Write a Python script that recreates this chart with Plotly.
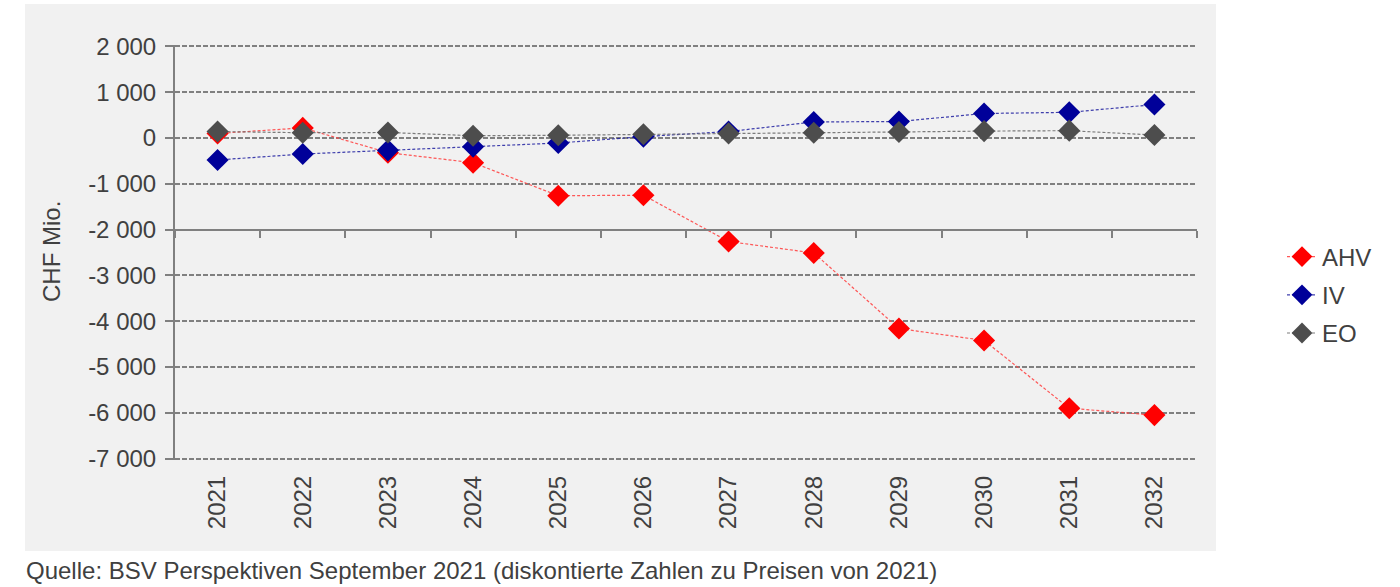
import plotly.graph_objects as go

years = ["2021", "2022", "2023", "2024", "2025", "2026", "2027", "2028", "2029", "2030", "2031", "2032"]
ahv = [100, 220, -320, -540, -1260, -1250, -2260, -2510, -4160, -4420, -5900, -6050]
iv = [-480, -350, -270, -190, -110, 30, 140, 350, 360, 535, 560, 730]
eo = [140, 115, 120, 50, 60, 80, 100, 115, 130, 150, 160, 65]

y_ticks = [2000, 1000, 0, -1000, -2000, -3000, -4000, -5000, -6000, -7000]
y_labels = ["2 000", "1 000", "0", "-1 000", "-2 000", "-3 000", "-4 000", "-5 000", "-6 000", "-7 000"]

FONT = "Liberation Sans, Arial, sans-serif"
TXT = "#404040"
GRID = "#808080"
FS = 24

Y_MIN, Y_MAX = -7030, 2030

W, H = 1400, 587
L, R, T, B = 175, 203, 45, 127
pw, ph = W - L - R, H - T - B


def px_x(x):
    return (x - L) / pw


def px_y(y):
    return (H - B - y) / ph


fig = go.Figure()

series = [
    ("AHV", ahv, "#ff0000", "rgba(255,70,70,0.9)"),
    ("IV", iv, "#000099", "rgba(30,30,160,0.85)"),
    ("EO", eo, "#4d4d4d", "rgba(110,110,110,0.9)"),
]
for name, vals, mcol, lcol in series:
    fig.add_trace(go.Scatter(
        x=years, y=vals, name=name, mode="lines+markers",
        line=dict(color=lcol, width=1.2, dash="3px,2px"),
        marker=dict(symbol="diamond", size=17, color=mcol),
        legendgroup=name,
    ))

# invisible trace to carry the crossing category axis
fig.add_trace(go.Scatter(
    x=years, y=ahv, xaxis="x2", mode="markers",
    marker=dict(opacity=0), showlegend=False, hoverinfo="skip",
))

fig.update_layout(
    width=W, height=H,
    margin=dict(l=L, r=R, t=T, b=B),
    paper_bgcolor="white",
    plot_bgcolor="rgba(0,0,0,0)",
    font=dict(family=FONT, size=FS, color=TXT),
    xaxis=dict(
        type="category", categoryorder="array", categoryarray=years,
        range=[-0.5, 11.5], showgrid=False, showline=False, zeroline=False,
        ticks="", tickangle=-90, ticklabelstandoff=10,
        tickfont=dict(family=FONT, size=FS, color=TXT),
    ),
    xaxis2=dict(
        type="category", categoryorder="array", categoryarray=years,
        range=[-0.5, 11.5], overlaying="x", anchor="free",
        position=(-2000 - Y_MIN) / (Y_MAX - Y_MIN),
        showgrid=False, showline=True, linecolor=GRID, linewidth=2,
        ticks="outside", tickson="boundaries", ticklen=7, tickwidth=2,
        tickcolor=GRID, showticklabels=False, zeroline=False,
    ),
    yaxis=dict(
        range=[Y_MIN, Y_MAX], tickmode="array", tickvals=y_ticks, ticktext=y_labels,
        showgrid=True, gridcolor=GRID, gridwidth=2, griddash="5px,2px",
        showline=True, linecolor=GRID, linewidth=2,
        ticks="outside", ticklen=8, tickwidth=2, tickcolor=GRID,
        ticklabelstandoff=4,
        zeroline=False, tickfont=dict(family=FONT, size=FS, color=TXT),
    ),
    legend=dict(
        x=px_x(1282), y=px_y(295), xanchor="left", yanchor="middle",
        font=dict(family=FONT, size=FS, color=TXT),
        bgcolor="rgba(0,0,0,0)", tracegroupgap=4,
    ),
    showlegend=True,
    shapes=[dict(
        type="rect", xref="paper", yref="paper", layer="below",
        x0=px_x(25), x1=px_x(1216), y0=px_y(551), y1=px_y(4),
        fillcolor="#f1f1f1", line=dict(width=0),
    )],
    annotations=[
        dict(text="CHF Mio.", xref="paper", yref="paper", x=px_x(52), y=px_y(252),
             xanchor="center", yanchor="middle", textangle=-90, showarrow=False,
             font=dict(family=FONT, size=FS, color=TXT)),
        dict(text="Quelle: BSV Perspektiven September 2021 (diskontierte Zahlen zu Preisen von 2021)",
             xref="paper", yref="paper", x=px_x(24), y=px_y(570),
             xanchor="left", yanchor="middle", showarrow=False,
             font=dict(family=FONT, size=FS, color=TXT)),
    ],
)

fig.write_html("out.html")
